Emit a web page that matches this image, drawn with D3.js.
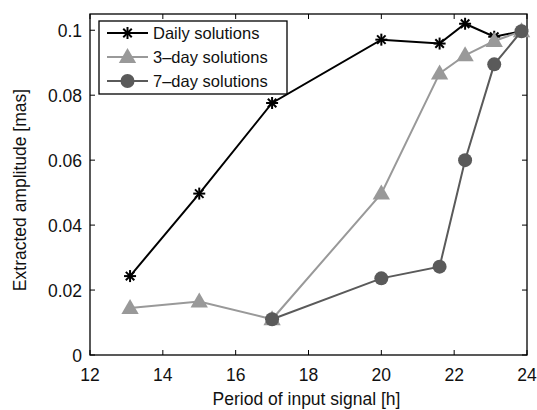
<!DOCTYPE html>
<html>
<head>
<meta charset="utf-8">
<script src="https://cdn.jsdelivr.net/npm/d3@7"></script>
<style>
  body { margin: 0; background: #fff; }
  svg { display: block; font-family: "Liberation Sans", Arial, sans-serif; }
</style>
</head>
<body>
<svg id="chart" width="537" height="410"></svg>
<script>
// Period of the input signal [h]
const periods = [13.1, 15.0, 17.0, 20.0, 21.6, 22.3, 23.1, 23.85];
const dailyAmp = [0.0243, 0.0497, 0.0776, 0.0971, 0.0959, 0.1020, 0.0980, 0.0997];
const threeDayAmp = [0.0145, 0.0165, 0.0110, 0.0497, 0.0867, 0.0923, 0.0967, 0.0997];
const sevenDayPeriods = [17.0, 20.0, 21.6, 22.3, 23.1, 23.85];
const sevenDayAmp = [0.0110, 0.0236, 0.0272, 0.0600, 0.0895, 0.0997];
const seriesNames = ["Daily solutions", "3\u2013day solutions", "7\u2013day solutions"];
const xTicks = [12, 14, 16, 18, 20, 22, 24];
const yTicks = [0, 0.02, 0.04, 0.06, 0.08, 0.1];

const margin = { left: 90, right: 10, top: 14, bottom: 55 };
const W = 537, H = 410;
const svg = d3.select("#chart");

const x = d3.scaleLinear().domain([12, 24]).range([margin.left, W - margin.right]);
const y = d3.scaleLinear().domain([0, 0.105]).range([H - margin.bottom, margin.top]);

const series = [
  { name: seriesNames[0], xs: periods, ys: dailyAmp, color: "#000", fill: "#000", marker: "star" },
  { name: seriesNames[1], xs: periods, ys: threeDayAmp, color: "#999", fill: "#999", marker: "tri" },
  { name: seriesNames[2], xs: sevenDayPeriods, ys: sevenDayAmp, color: "#5a5a5a", fill: "#5a5a5a", marker: "circle" }
];

// Axes box with inward ticks on all four sides
const tickLen = 5;
const x0 = x.range()[0], x1 = x.range()[1], y0 = y.range()[0], y1 = y.range()[1];
const axisColor = "#000";

const gAx = svg.append("g");
gAx.append("rect").attr("x", x0).attr("y", y1).attr("width", x1 - x0).attr("height", y0 - y1)
  .attr("fill", "none").attr("stroke", axisColor).attr("stroke-width", 1.3);

xTicks.forEach(t => {
  gAx.append("line").attr("x1", x(t)).attr("x2", x(t)).attr("y1", y0).attr("y2", y0 - tickLen).attr("stroke", axisColor);
  gAx.append("line").attr("x1", x(t)).attr("x2", x(t)).attr("y1", y1).attr("y2", y1 + tickLen).attr("stroke", axisColor);
  gAx.append("text").attr("x", x(t)).attr("y", y0 + 26).attr("text-anchor", "middle")
    .attr("font-size", 17.5).attr("fill", "#111").text(t);
});
yTicks.forEach(t => {
  gAx.append("line").attr("x1", x0).attr("x2", x0 + tickLen).attr("y1", y(t)).attr("y2", y(t)).attr("stroke", axisColor);
  gAx.append("line").attr("x1", x1).attr("x2", x1 - tickLen).attr("y1", y(t)).attr("y2", y(t)).attr("stroke", axisColor);
  gAx.append("text").attr("x", x0 - 8).attr("y", y(t) + 6.5).attr("text-anchor", "end")
    .attr("font-size", 17.5).attr("fill", "#111").text(t === 0 ? "0" : d3.format("")(t));
});

svg.append("text").attr("x", (x0 + x1) / 2 - 2).attr("y", 405).attr("text-anchor", "middle")
  .attr("font-size", 17.5).attr("fill", "#111").text("Period of input signal [h]");
svg.append("text").attr("transform", `translate(26, 190) rotate(-90)`)
  .attr("text-anchor", "middle").attr("font-size", 17.5).attr("fill", "#111")
  .text("Extracted amplitude [mas]");

// Marker drawing
function drawMarker(g, type, cx, cy, color) {
  if (type === "star") {
    const r = 6;
    [0, 45, 90, 135].forEach(a => {
      const rad = a * Math.PI / 180;
      g.append("line")
        .attr("x1", cx - r * Math.cos(rad)).attr("y1", cy - r * Math.sin(rad))
        .attr("x2", cx + r * Math.cos(rad)).attr("y2", cy + r * Math.sin(rad))
        .attr("stroke", color).attr("stroke-width", 2);
    });
  } else if (type === "tri") {
    g.append("path").attr("transform", `translate(${cx},${cy + 1})`)
      .attr("d", d3.symbol(d3.symbolTriangle, 130)()).attr("fill", color);
  } else {
    g.append("circle").attr("cx", cx).attr("cy", cy).attr("r", 7).attr("fill", color);
  }
}

const line = d3.line();
series.forEach(s => {
  const pts = s.xs.map((v, i) => [x(v), y(s.ys[i])]);
  const g = svg.append("g");
  g.append("path").attr("d", line(pts)).attr("fill", "none")
    .attr("stroke", s.color).attr("stroke-width", 2);
  pts.forEach(p => drawMarker(g, s.marker, p[0], p[1], s.fill));
});

// Legend
const lg = svg.append("g");
lg.append("rect").attr("x", 99).attr("y", 21).attr("width", 188).attr("height", 73)
  .attr("fill", "#fff").attr("stroke", "#000").attr("stroke-width", 1.3);
series.forEach((s, i) => {
  const ly = 33 + i * 24;
  lg.append("line").attr("x1", 107).attr("x2", 148).attr("y1", ly).attr("y2", ly)
    .attr("stroke", s.color).attr("stroke-width", 2);
  drawMarker(lg, s.marker, 127.5, ly, s.fill);
  lg.append("text").attr("x", 153).attr("y", ly + 6).attr("font-size", 16.5)
    .attr("fill", "#111").text(s.name);
});
</script>
</body>
</html>
